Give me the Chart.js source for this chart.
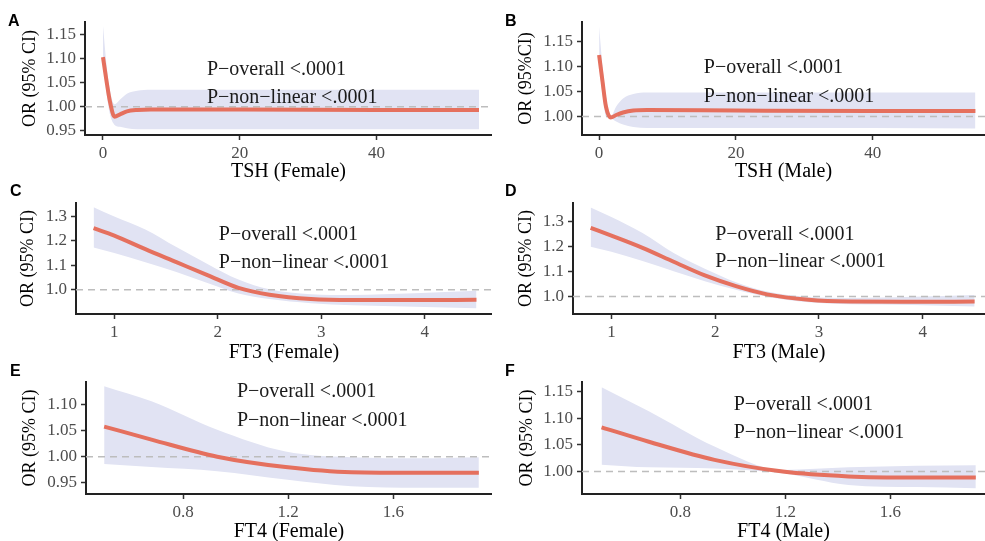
<!DOCTYPE html>
<html>
<head>
<meta charset="utf-8">
<script src="https://cdn.jsdelivr.net/npm/chart.js@4.4.1/dist/chart.umd.min.js"></script>
<style>
  body { margin: 0; background: #fff; }
  #wrap { position: relative; width: 985px; height: 541px; overflow: hidden; background: #fff; }
  .panel { position: absolute; }
  .tag { position: absolute; font: bold 16px "Liberation Sans", Arial, sans-serif; color: #000; line-height: 1; }
</style>
</head>
<body>
<div id="wrap"></div>
<script>
// values
const tshX = [0, 0.5, 1, 1.7, 2.5, 3.5, 5, 7, 20, 40, 55];
const tshFemaleOR    = [1.103, 1.055, 1.012, 0.979, 0.984, 0.990, 0.993, 0.994, 0.994, 0.993, 0.993];
const tshFemaleUpper = [1.168, 1.090, 1.035, 1.005, 1.015, 1.027, 1.033, 1.035, 1.035, 1.035, 1.035];
const tshFemaleLower = [1.098, 1.030, 0.985, 0.962, 0.958, 0.955, 0.953, 0.953, 0.953, 0.953, 0.953];
const tshMaleOR    = [1.123, 1.070, 1.020, 0.998, 1.003, 1.008, 1.012, 1.013, 1.012, 1.011, 1.011];
const tshMaleUpper = [1.180, 1.100, 1.040, 1.000, 1.020, 1.036, 1.045, 1.048, 1.048, 1.048, 1.048];
const tshMaleLower = [1.100, 1.045, 1.000, 0.996, 0.990, 0.984, 0.979, 0.977, 0.977, 0.977, 0.976];

const ft3X = [0.8, 1.0, 1.3, 1.6, 1.9, 2.2, 2.5, 2.9, 3.3, 3.9, 4.5];
const ft3FemaleOR    = [1.252, 1.222, 1.166, 1.113, 1.060, 1.008, 0.980, 0.962, 0.958, 0.958, 0.959];
const ft3FemaleUpper = [1.338, 1.300, 1.247, 1.175, 1.106, 1.042, 1.002, 0.982, 0.979, 0.986, 0.996];
const ft3FemaleLower = [1.173, 1.150, 1.113, 1.073, 1.028, 0.985, 0.962, 0.945, 0.937, 0.931, 0.925];
const ft3MaleOR    = [1.276, 1.245, 1.196, 1.140, 1.085, 1.042, 1.009, 0.987, 0.980, 0.979, 0.980];
const ft3MaleUpper = [1.358, 1.320, 1.255, 1.175, 1.112, 1.058, 1.020, 0.998, 0.994, 0.999, 1.006];
const ft3MaleLower = [1.200, 1.180, 1.143, 1.102, 1.062, 1.027, 0.999, 0.977, 0.969, 0.966, 0.960];

const ft4X = [0.5, 0.68, 0.93, 1.19, 1.44, 1.7, 1.925];
const ft4FemaleOR    = [1.058, 1.033, 1.000, 0.980, 0.970, 0.969, 0.969];
const ft4FemaleUpper = [1.136, 1.107, 1.052, 1.010, 0.999, 0.997, 0.999];
const ft4FemaleLower = [0.986, 0.980, 0.972, 0.956, 0.943, 0.940, 0.940];
const ft4MaleOR    = [1.083, 1.056, 1.022, 1.000, 0.991, 0.989, 0.989];
const ft4MaleUpper = [1.158, 1.113, 1.047, 1.003, 1.008, 1.011, 1.012];
const ft4MaleLower = [1.013, 1.008, 1.006, 0.997, 0.975, 0.971, 0.969];

const tshXTicks = [0, 20, 40];
const ft3XTicks = [1, 2, 3, 4];
const ft4XTicks = [0.8, 1.2, 1.6];
const tshFemaleYTicks = [0.95, 1.00, 1.05, 1.10, 1.15];
const tshMaleYTicks = [1.00, 1.05, 1.10, 1.15];
const ft3YTicks = [1.0, 1.1, 1.2, 1.3];
const ft4FemaleYTicks = [0.95, 1.00, 1.05, 1.10];
const ft4MaleYTicks = [1.00, 1.05, 1.10, 1.15];
const pText = ['P\u2212overall <.0001', 'P\u2212non\u2212linear <.0001'];

const LINE = '#E5705E';
const BAND = '#E1E3F3';
const SERIF = '"Liberation Serif", "Times New Roman", serif';

// box: left, top, width, height; area: left, top, bottom (canvas px)
const panels = [
  { tag: 'A', box: [0, 0, 492, 182], area: [85, 22, 135], tagPos: [8, 13],
    x: tshX, or: tshFemaleOR, up: tshFemaleUpper, lo: tshFemaleLower,
    xr: [-2.63, 56.9], yr: [0.941, 1.176], xt: tshXTicks, yt: tshFemaleYTicks, xd: 0, yd: 2,
    xTitle: 'TSH (Female)', yTitle: 'OR (95% CI)', yPad: 21, note: [15.2, 1.076, 1.018] },
  { tag: 'B', box: [492, 0, 493, 182], area: [90, 22, 135], tagPos: [13, 13],
    x: tshX, or: tshMaleOR, up: tshMaleUpper, lo: tshMaleLower,
    xr: [-2.5, 56.4], yr: [0.963, 1.189], xt: tshXTicks, yt: tshMaleYTicks, xd: 0, yd: 2,
    xTitle: 'TSH (Male)', yTitle: 'OR (95%CI)', yPad: 25, note: [15.3, 1.097, 1.040] },
  { tag: 'C', box: [0, 180, 492, 183], area: [76, 23, 134], tagPos: [10, 3],
    x: ft3X, or: ft3FemaleOR, up: ft3FemaleUpper, lo: ft3FemaleLower,
    xr: [0.63, 4.65], yr: [0.901, 1.355], xt: ft3XTicks, yt: ft3YTicks, xd: 0, yd: 1,
    xTitle: 'FT3 (Female)', yTitle: 'OR (95% CI)', yPad: 19, note: [2.01, 1.227, 1.111] },
  { tag: 'D', box: [492, 180, 493, 183], area: [81, 23, 134], tagPos: [13, 3],
    x: ft3X, or: ft3MaleOR, up: ft3MaleUpper, lo: ft3MaleLower,
    xr: [0.63, 4.6], yr: [0.93, 1.376], xt: ft3XTicks, yt: ft3YTicks, xd: 0, yd: 1,
    xTitle: 'FT3 (Male)', yTitle: 'OR (95% CI)', yPad: 25, note: [2.0, 1.25, 1.138] },
  { tag: 'E', box: [0, 360, 492, 182], area: [86, 22, 134], tagPos: [10, 3],
    x: ft4X, or: ft4FemaleOR, up: ft4FemaleUpper, lo: ft4FemaleLower,
    xr: [0.431, 1.975], yr: [0.928, 1.144], xt: ft4XTicks, yt: ft4FemaleYTicks, xd: 1, yd: 2,
    xTitle: 'FT4 (Female)', yTitle: 'OR (95% CI)', yPad: 21, note: [1.005, 1.126, 1.070] },
  { tag: 'F', box: [492, 360, 493, 182], area: [90, 22, 134], tagPos: [13, 3],
    x: ft4X, or: ft4MaleOR, up: ft4MaleUpper, lo: ft4MaleLower,
    xr: [0.4255, 1.96], yr: [0.958, 1.168], xt: ft4XTicks, yt: ft4MaleYTicks, xd: 1, yd: 2,
    xTitle: 'FT4 (Male)', yTitle: 'OR (95% CI)', yPad: 26, note: [1.003, 1.125, 1.072] }
];

// dashed OR = 1 line, drawn over the band but under the curve
const refLine = {
  id: 'refLine',
  afterDatasetDraw(chart, args) {
    if (args.index !== 1) return;
    const { ctx, chartArea } = chart;
    const y = chart.scales.y.getPixelForValue(1);
    ctx.save();
    ctx.strokeStyle = '#BDBDBD';
    ctx.lineWidth = 1.5;
    ctx.setLineDash([7, 5]);
    ctx.beginPath();
    ctx.moveTo(chartArea.left, y);
    ctx.lineTo(chartArea.right, y);
    ctx.stroke();
    ctx.restore();
  }
};

const pNote = {
  id: 'pNote',
  afterDraw(chart, args, opts) {
    const { ctx, scales } = chart;
    const x = scales.x.getPixelForValue(opts.at[0]);
    ctx.save();
    ctx.font = '20px ' + SERIF;
    ctx.fillStyle = '#1a1a1a';
    ctx.textAlign = 'left';
    ctx.textBaseline = 'middle';
    ctx.fillText(pText[0], x, scales.y.getPixelForValue(opts.at[1]));
    ctx.fillText(pText[1], x, scales.y.getPixelForValue(opts.at[2]));
    ctx.restore();
  }
};

const wrap = document.getElementById('wrap');

panels.forEach(p => {
  const [bx, by, bw, bh] = p.box;
  const div = document.createElement('div');
  div.className = 'panel';
  div.style.left = bx + 'px';
  div.style.top = by + 'px';
  div.style.width = bw + 'px';
  div.style.height = bh + 'px';
  const canvas = document.createElement('canvas');
  canvas.width = bw;
  canvas.height = bh;
  div.appendChild(canvas);
  const tag = document.createElement('div');
  tag.className = 'tag';
  tag.textContent = p.tag;
  tag.style.left = p.tagPos[0] + 'px';
  tag.style.top = p.tagPos[1] + 'px';
  div.appendChild(tag);
  wrap.appendChild(div);

  const pts = ys => p.x.map((v, i) => ({ x: v, y: ys[i] }));

  new Chart(canvas.getContext('2d'), {
    type: 'line',
    data: {
      datasets: [
        { data: pts(p.or), borderColor: LINE, borderWidth: 4, pointRadius: 0,
          fill: false, cubicInterpolationMode: 'monotone' },
        { data: pts(p.up), borderColor: 'rgba(0,0,0,0)', backgroundColor: BAND, pointRadius: 0,
          fill: '+1', cubicInterpolationMode: 'monotone' },
        { data: pts(p.lo), borderColor: 'rgba(0,0,0,0)', pointRadius: 0,
          fill: false, cubicInterpolationMode: 'monotone' }
      ]
    },
    options: {
      responsive: false,
      animation: false,
      devicePixelRatio: 1,
      layout: { padding: { top: p.area[1], left: 0, right: 0, bottom: 0 } },
      plugins: {
        legend: { display: false },
        tooltip: { enabled: false },
        pNote: { at: p.note }
      },
      scales: {
        x: {
          type: 'linear',
          min: p.xr[0],
          max: p.xr[1],
          afterFit: s => { s.height = bh - p.area[2]; },
          afterBuildTicks: s => { s.ticks = p.xt.map(v => ({ value: v })); },
          ticks: {
            callback: v => v.toFixed(p.xd),
            font: { family: SERIF, size: 17 },
            color: '#4D4D4D',
            padding: 3,
            maxRotation: 0
          },
          grid: { drawOnChartArea: false, drawTicks: true, tickLength: 5, tickColor: '#333', tickWidth: 1.5 },
          border: { display: true, color: '#222', width: 2 },
          title: { display: true, text: p.xTitle, color: '#000',
                   font: { family: SERIF, size: 20, lineHeight: 1 }, padding: 0 }
        },
        y: {
          min: p.yr[0],
          max: p.yr[1],
          afterFit: s => { s.width = p.area[0]; },
          afterBuildTicks: s => { s.ticks = p.yt.map(v => ({ value: v })); },
          ticks: {
            callback: v => v.toFixed(p.yd),
            font: { family: SERIF, size: 17 },
            color: '#4D4D4D',
            padding: 4
          },
          grid: { drawOnChartArea: false, drawTicks: true, tickLength: 5, tickColor: '#333', tickWidth: 1.5 },
          border: { display: true, color: '#222', width: 2 },
          title: { display: true, text: p.yTitle, color: '#000',
                   font: { family: SERIF, size: 18, lineHeight: 1 }, padding: { top: p.yPad, bottom: 0 } }
        }
      }
    },
    plugins: [refLine, pNote]
  });
});
</script>
</body>
</html>
